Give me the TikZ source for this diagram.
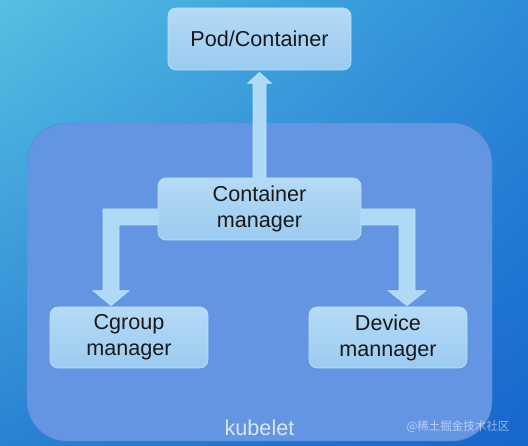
\documentclass[tikz,border=0pt]{standalone}
\usepackage{fontspec}
\setmainfont{Liberation Sans}
\newfontfamily\cjkfont{Noto Sans CJK SC}
\usetikzlibrary{calc}
\usetikzlibrary{backgrounds}
\usetikzlibrary{shadings}
\definecolor{bgul}{HTML}{55C0E2}
\definecolor{bgur}{HTML}{2C8CD9}
\definecolor{bgll}{HTML}{2A82D3}
\definecolor{bglr}{HTML}{1766CC}
\definecolor{kubefill}{HTML}{6495E3}
\definecolor{boxtop}{HTML}{B4DAF6}
\definecolor{boxbot}{HTML}{9BCBF0}
\definecolor{boxline}{HTML}{BFE0F8}
\definecolor{arrowfill}{HTML}{AFDAF5}
\definecolor{kubetext}{HTML}{D6E7F9}
\tikzset{
	mgbox/.style={
		rectangle,
		rounded corners=8pt,
		top color=boxtop,
		bottom color=boxbot,
		draw=boxline,
		line width=0.6pt,
		align=center,
		text=black!90,
		font=\fontsize{21.6}{26}\selectfont,
		inner sep=0pt
	},
	fatarrow/.style={
		fill=arrowfill,
		draw=boxline,
		line width=0.6pt,
		line join=miter
	},
	kubebox/.style={
		rectangle,
		rounded corners=40pt,
		fill=kubefill,
		draw=kubefill!90!black,
		line width=0.4pt,
		minimum width=465pt,
		minimum height=318pt
	}
}

\begin{document}
\begin{tikzpicture} [x=1pt, y=-1pt]
	\useasboundingbox (0,0) rectangle (528,446);
	\begin{scope}[on background layer]
		\shade [upper left=bgul, upper right=bgur, lower left=bgll, lower right=bglr] (0,0) rectangle (528,446);
	\end{scope}

	\node [kubebox] (kubelet) at (259.5,282) {};
	\node [text=kubetext, font=\fontsize{21.6}{26}\selectfont] (kubeletname) at ($(kubelet.south)+(0,-13)$) {kubelet};

	\node [mgbox, minimum width=183pt, minimum height=62pt] (pod) at (259.5,39) {Pod/Container};
	\node [mgbox, minimum width=203pt, minimum height=62pt] (cm) at (259.5,209) {Container\\manager};
	\node [mgbox, minimum width=158pt, minimum height=61pt] (cg) at (129,337.5) {Cgroup\\manager};
	\node [mgbox, minimum width=158pt, minimum height=61pt] (dm) at (388,337.5) {Device\\mannager};

	\coordinate (cgtip) at ($(cg.north)+(-18,-1)$);
	\coordinate (dmtip) at ($(dm.north)+(19,-1)$);

	% container manager -> pod
	\draw [fatarrow] ($(cm.north)+(-6.5,0)$) -- ($(pod.south)+(-6.5,13)$) -- ($(pod.south)+(-12,13)$)
		-- ($(pod.south)+(0,2)$) -- ($(pod.south)+(12,13)$) -- ($(pod.south)+(6.5,13)$)
		-- ($(cm.north)+(6.5,0)$) -- cycle;
	% container manager -> cgroup manager
	\draw [fatarrow] (cm.west) -- ($(cgtip |- cm.west)+(-8,0)$) -- ($(cgtip)+(-8,-15)$) -- ($(cgtip)+(-18,-15)$)
		-- (cgtip) -- ($(cgtip)+(18,-15)$) -- ($(cgtip)+(8,-15)$) -- ($(cgtip |- cm.west)+(8,16)$)
		-- ($(cm.west)+(0,16)$) -- cycle;
	% container manager -> device mannager
	\draw [fatarrow] (cm.east) -- ($(dmtip |- cm.east)+(8,0)$) -- ($(dmtip)+(8,-15)$) -- ($(dmtip)+(19,-15)$)
		-- (dmtip) -- ($(dmtip)+(-19,-15)$) -- ($(dmtip)+(-8,-15)$) -- ($(dmtip |- cm.east)+(-8,16)$)
		-- ($(cm.east)+(0,16)$) -- cycle;

	\node [anchor=east, text=white, opacity=0.55, font=\cjkfont\fontsize{11.5}{12}\selectfont] (mark) at (513,427) {@稀土掘金技术社区};
\end{tikzpicture}
\end{document}
